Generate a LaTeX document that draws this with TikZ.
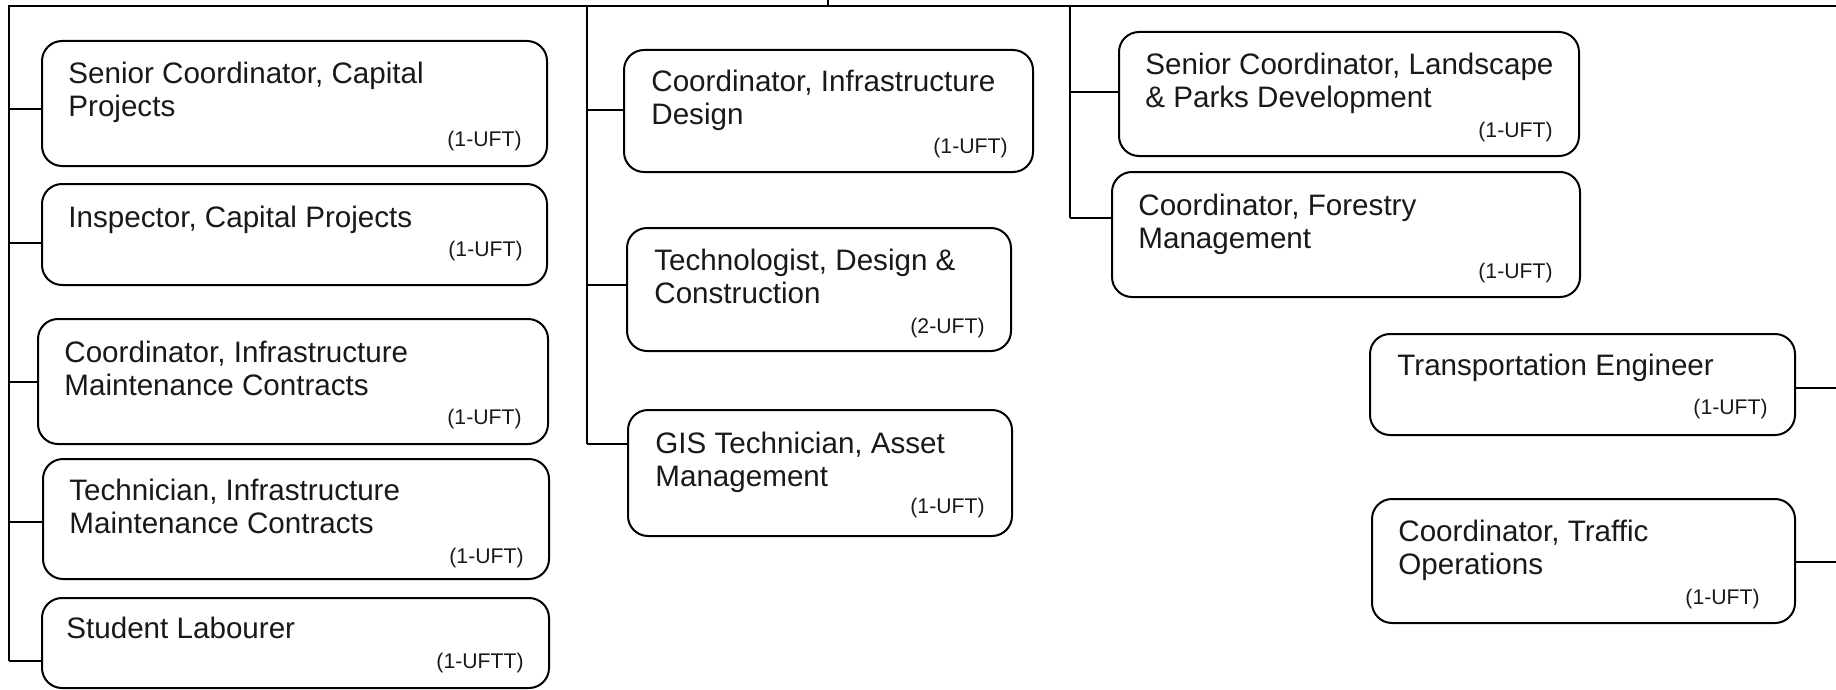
\documentclass[tikz,border=0pt]{standalone}
\usepackage{fontspec}
\setmainfont{Liberation Sans}
\usetikzlibrary{fit}
\newcommand{\ttl}[1]{\begin{tabular}[t]{@{}l@{}}#1\end{tabular}}
\begin{document}
\begin{tikzpicture}[x=0.5pt,y=-0.5pt,
  posbox/.style={draw=black,line width=1pt,rounded corners=10pt,inner sep=0pt},
  title/.style={inner sep=0pt,anchor=base west,text=black!90,font=\fontsize{14.8}{16.5}\selectfont},
  fte/.style={inner sep=0pt,anchor=base east,text=black!90,font=\fontsize{10.6}{12}\selectfont},
  wire/.style={draw=black,line width=1pt}]
\useasboundingbox (0,0) rectangle (1836,690);
\path[fill=white] (0,0) rectangle (1836,690);

% boxes: left column
\node[posbox,fit={(42,41) (547,166)}] (A1) {};
\node[posbox,fit={(42,184) (547,285)}] (A2) {};
\node[posbox,fit={(38,319) (548,444)}] (A3) {};
\node[posbox,fit={(43,459) (549,579)}] (A4) {};
\node[posbox,fit={(42,598) (549,688)}] (A5) {};
% middle column
\node[posbox,fit={(624,50) (1033,172)}] (B1) {};
\node[posbox,fit={(627,228) (1011,351)}] (B2) {};
\node[posbox,fit={(628,410) (1012,536)}] (B3) {};
% right column
\node[posbox,fit={(1119,32) (1579,156)}] (C1) {};
\node[posbox,fit={(1112,172) (1580,297)}] (C2) {};
\node[posbox,fit={(1370,334) (1795,435)}] (D1) {};
\node[posbox,fit={(1372,499) (1795,623)}] (D2) {};

% titles
\node[title] (A1t) at (68,84) {\ttl{Senior Coordinator, Capital\\Projects}};
\node[title] (A2t) at (68,227) {\ttl{Inspector, Capital Projects}};
\node[title] (A3t) at (64,362) {\ttl{Coordinator, Infrastructure\\Maintenance Contracts}};
\node[title] (A4t) at (69,500) {\ttl{Technician, Infrastructure\\Maintenance Contracts}};
\node[title] (A5t) at (66,638) {\ttl{Student Labourer}};
\node[title] (B1t) at (651,92) {\ttl{Coordinator, Infrastructure\\Design}};
\node[title] (B2t) at (654,270) {\ttl{Technologist, Design \&\\Construction}};
\node[title] (B3t) at (655,453) {\ttl{GIS Technician, Asset\\Management}};
\node[title] (C1t) at (1145,75) {\ttl{Senior Coordinator, Landscape\\\& Parks Development}};
\node[title] (C2t) at (1138,215) {\ttl{Coordinator, Forestry\\Management}};
\node[title] (D1t) at (1397,375) {\ttl{Transportation Engineer}};
\node[title] (D2t) at (1398,541) {\ttl{Coordinator, Traffic\\Operations}};

% FTE labels
\node[fte] (A1f) at (522,147) {(1-UFT)};
\node[fte] (A2f) at (523,256) {(1-UFT)};
\node[fte] (A3f) at (522,424) {(1-UFT)};
\node[fte] (A4f) at (524,563) {(1-UFT)};
\node[fte] (A5f) at (524,668) {(1-UFTT)};
\node[fte] (B1f) at (1008,154) {(1-UFT)};
\node[fte] (B2f) at (985,333) {(2-UFT)};
\node[fte] (B3f) at (985,513) {(1-UFT)};
\node[fte] (C1f) at (1553,138) {(1-UFT)};
\node[fte] (C2f) at (1553,278) {(1-UFT)};
\node[fte] (D1f) at (1768,414) {(1-UFT)};
\node[fte] (D2f) at (1760,604) {(1-UFT)};

% trunk coordinates
\coordinate (par) at (828,0);
\coordinate (parJ) at (828,6);
\coordinate (topL) at (9,6);
\coordinate (topR) at (1836,6);
\coordinate (tM) at (587,6);
\coordinate (tR) at (1070,6);
\coordinate (jA1) at (9,109);
\coordinate (jA2) at (9,243);
\coordinate (jA3) at (9,382);
\coordinate (jA4) at (9,522);
\coordinate (jA5) at (9,661);
\coordinate (jB1) at (587,110);
\coordinate (jB2) at (587,285);
\coordinate (jB3) at (587,444);
\coordinate (jC1) at (1070,92);
\coordinate (jC2) at (1070,218);
\coordinate (jD1) at (1836,388);
\coordinate (jD2) at (1836,562);

% wires
\draw[wire] (par) -- (parJ);
\draw[wire] (jA5) -- (topL) -- (topR);
\draw[wire] (tM) -- (jB3);
\draw[wire] (tR) -- (jC2);
\foreach \j/\b in {A1/A1,A2/A2,A3/A3,A4/A4,A5/A5,B1/B1,B2/B2,B3/B3,C1/C1,C2/C2}
  \draw[wire] (j\j) -- (j\j -| \b.west);
\draw[wire] (jD1) -- (jD1 -| D1.east);
\draw[wire] (jD2) -- (jD2 -| D2.east);
\end{tikzpicture}
\end{document}
